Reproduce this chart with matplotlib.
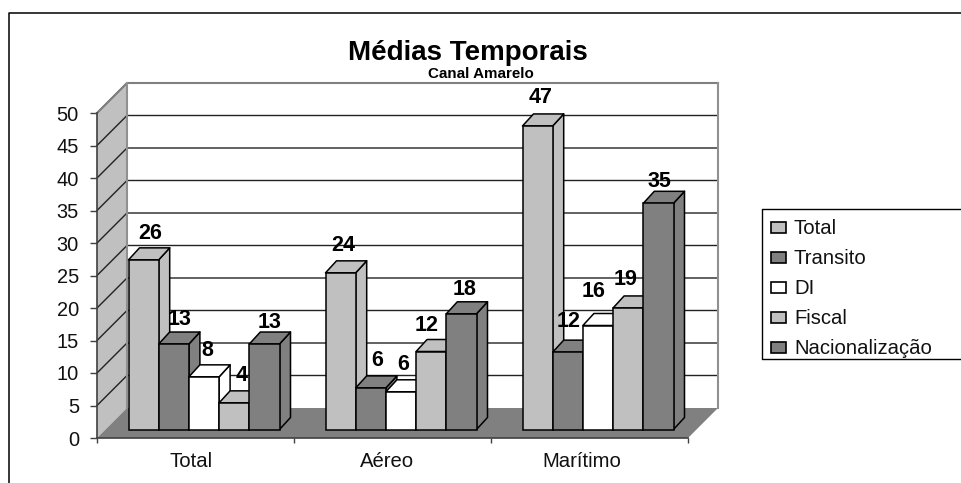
import matplotlib
matplotlib.use('Agg')
import matplotlib.pyplot as plt
from matplotlib.patches import Polygon, Rectangle

plt.rcParams['font.family'] = ['Liberation Sans', 'DejaVu Sans']

categories = ['Total', 'Aéreo', 'Marítimo']
series = ['Total', 'Transito', 'DI', 'Fiscal', 'Nacionalização']
colors = ['#c0c0c0', '#808080', '#ffffff', '#c0c0c0', '#808080']
total = [26.1, 24.1, 46.7]
transito = [13.15, 6.4, 11.9]
di = [8.1, 5.8, 16.0]
fiscal = [4.1, 12.0, 18.7]
nacional = [13.15, 17.8, 34.8]
values = [total, transito, di, fiscal, nacional]
yticks = [0, 5, 10, 15, 20, 25, 30, 35, 40, 45, 50]

# label placement in pixels from the bar's back top edge, one row per series
label_dx = [[7, 3, 3], [6, 6, 1], [3, 2, -4], [7, -5, -3], [5, 3, 1]]
label_dy = [[14, 15, 16], [13, 15, 19], [14, 15, 22], [15, 14, 16], [10, 12, 10]]

W, H = 961, 483
x0, x1, y0, y50 = 97, 688, 438, 113   # front plane in pixels
px_x = (x1 - x0) / 3.0
px_y = (y0 - y50) / 50.0

fig = plt.figure(figsize=(W / 100, H / 100), dpi=100)

# page layer in pixels: frame and legend
bg = fig.add_axes([0, 0, 1, 1])
bg.set_xlim(0, W)
bg.set_ylim(H, 0)
bg.axis('off')
bg.plot([9, 9, W], [H, 13, 13], color='black', lw=1.1)
bg.plot([W, 762, 762, W], [209, 209, 359, 359], color='black', lw=1.0)
for i, name in enumerate(series):
    ym = 227 + i * 30
    bg.add_patch(Rectangle((771, ym - 5.5), 15, 11, fc=colors[i], ec='black', lw=1.2))
    bg.text(794, ym + 1, name, fontsize=14.6, va='center', ha='left', color='#111111')
bg.text(468, 53, 'Médias Temporais', fontsize=20, fontweight='bold', ha='center', va='center')
bg.text(480.5, 73.5, 'Canal Amarelo', fontsize=10.9, fontweight='bold', ha='center', va='center')

ax = fig.add_axes([x0 / W, 1 - y0 / H, (x1 - x0) / W, (y0 - y50) / H])
ax.set_xlim(0, 3)
ax.set_ylim(0, 50)
ax.patch.set_visible(False)
for s in ['top', 'right']:
    ax.spines[s].set_visible(False)
for s in ['left', 'bottom']:
    ax.spines[s].set_color('#404040')
    ax.spines[s].set_linewidth(1.2)
    ax.spines[s].set_zorder(3)

depth_x = 30 / px_x
depth_y = 30 / px_y

# walls and floor
ax.add_patch(Polygon([(0, 0), (depth_x, depth_y), (depth_x, 50 + depth_y), (0, 50)],
                     fc='#c0c0c0', ec='none', clip_on=False, zorder=1))
ax.add_patch(Polygon([(0, 0), (3, 0), (3 + depth_x, depth_y), (depth_x, depth_y)],
                     fc='#808080', ec='none', clip_on=False, zorder=1))
for t in yticks[1:]:
    ax.plot([0, depth_x, 3 + depth_x], [t, t + depth_y, t + depth_y], color='#222222', lw=1.0,
            clip_on=False, zorder=1.5)
ax.plot([0, depth_x, 3 + depth_x], [50, 50 + depth_y, 50 + depth_y], color='#808080', lw=1.5,
        clip_on=False, zorder=2)
ax.plot([depth_x, depth_x], [depth_y, 50 + depth_y], color='#909090', lw=1.5, clip_on=False, zorder=2)
ax.plot([3 + depth_x, 3 + depth_x], [depth_y, 50 + depth_y], color='#909090', lw=1.5,
        clip_on=False, zorder=2)

# 3d bars
bar_w = 30.2 / px_x
start = 31.5 / px_x
base = 8.5 / px_y
bar_dx = 11 / px_x
bar_dy = 12 / px_y
z = 4
for c in range(len(categories)):
    for s in range(len(series)):
        v = values[s][c]
        left = c + start + s * bar_w
        right = left + bar_w
        top = base + v
        fc = colors[s]
        kw = dict(fc=fc, ec='black', lw=1.1, clip_on=False, joinstyle='round')
        ax.add_patch(Polygon([(right, base), (right + bar_dx, base + bar_dy),
                              (right + bar_dx, top + bar_dy), (right, top)], zorder=z, **kw))
        ax.add_patch(Polygon([(left, top), (left + bar_dx, top + bar_dy),
                              (right + bar_dx, top + bar_dy), (right, top)], zorder=z, **kw))
        ax.bar(left, v, width=bar_w, bottom=base, align='edge', color=fc, edgecolor='black',
               linewidth=1.1, zorder=z + 0.1, clip_on=False)
        ax.annotate(str(round(v)), (left + bar_w / 2, top + bar_dy),
                    xytext=(label_dx[s][c] * 0.72, label_dy[s][c] * 0.72),
                    textcoords='offset points', ha='center', va='center', fontsize=15.5,
                    fontweight='bold', zorder=50, annotation_clip=False)
        z += 1

ax.set_yticks(yticks)
ax.tick_params(axis='y', length=5, width=1, color='#404040', pad=8, labelsize=14.4, labelcolor='#111111')
ax.set_xticks([0, 1, 2, 3])
ax.set_xticklabels([])
ax.set_xticks([0.48, 1.47, 2.46], labels=categories, minor=True)
ax.tick_params(axis='x', which='major', length=3.6, width=1, color='#404040')
ax.tick_params(axis='x', which='minor', length=0, pad=10, labelsize=14.6, labelcolor='#111111')

plt.savefig('out.png', dpi=100)
